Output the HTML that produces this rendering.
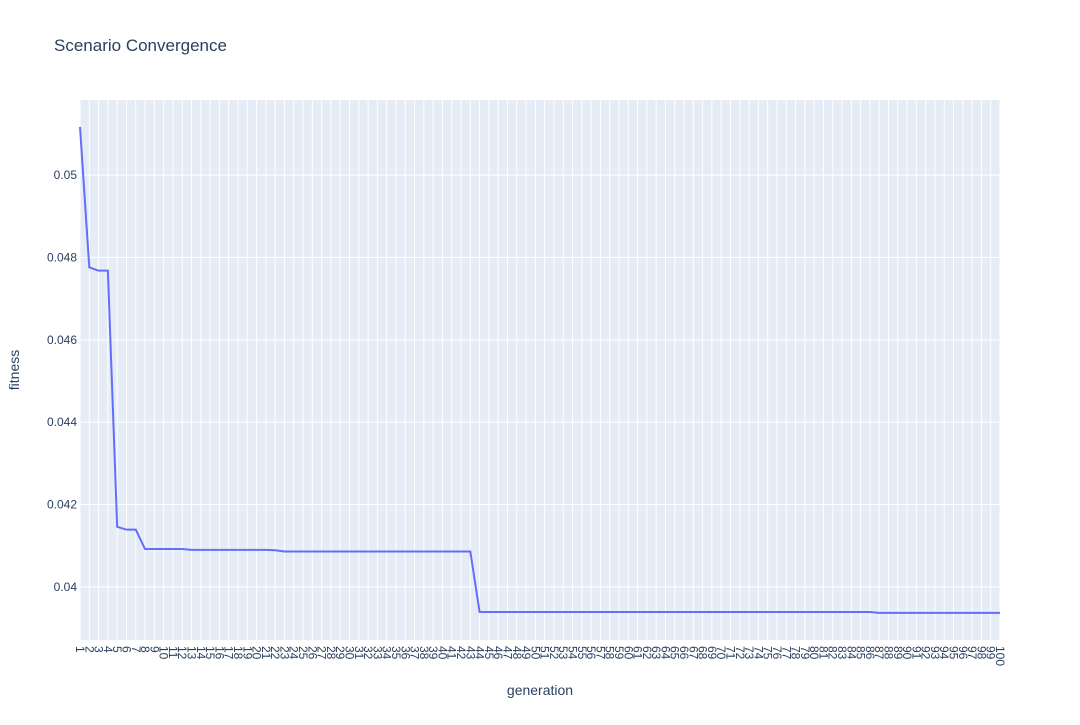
<!DOCTYPE html>
<html><head><meta charset="utf-8"><style>
body{margin:0;background:#fff;font-family:"Liberation Sans",Arial,sans-serif}
</style></head><body>
<svg id="chart" width="1080" height="720" xmlns="http://www.w3.org/2000/svg">
<text x="54" y="51" font-size="17" fill="#2a3f5f">Scenario Convergence</text>
<rect x="80" y="100" width="920" height="540" fill="#e5ecf6"/>
<g id="grid"></g><g id="xt"></g><g id="yt"></g>
<path id="line" fill="none" stroke="#636efa" stroke-width="2"/>
<text x="540" y="695" font-size="14" fill="#2a3f5f" text-anchor="middle">generation</text>
<text transform="translate(19,370) rotate(-90)" font-size="14" fill="#2a3f5f" text-anchor="middle">fitness</text>
</svg>
<script>
const fitnessA = [0.05117,0.04776,0.04768,0.04768,0.04146,0.04139,0.04139,0.04092,0.04092,0.04092,0.04092,0.04092];
const fitnessB = [0.0409,0.0409,0.0409,0.0409,0.0409,0.0409,0.0409,0.0409,0.0409,0.04089];
const fitnessC = Array(21).fill(0.04086);
const fitnessD = Array(43).fill(0.03939);
const fitnessE = Array(14).fill(0.03937);
const fitness = fitnessA.concat(fitnessB, fitnessC, fitnessD, fitnessE);
const generations = fitness.map((_, i) => String(i + 1));
const yTicks = [0.04, 0.042, 0.044, 0.046, 0.048, 0.05];
const yTickLabels = ["0.04","0.042","0.044","0.046","0.048","0.05"];
const ns="http://www.w3.org/2000/svg";
const X0=80,X1=1000,Y0=640,Y1=100,yMin=0.038711,yMax=0.051824;
const xs=i=>X0+i*(X1-X0)/(generations.length-1);
const ys=v=>Y0-(v-yMin)/(yMax-yMin)*(Y0-Y1);
function mk(t,a,p){const e=document.createElementNS(ns,t);for(const k in a)e.setAttribute(k,a[k]);p.appendChild(e);return e;}
const grid=document.getElementById('grid'),xt=document.getElementById('xt'),yt=document.getElementById('yt');
generations.forEach((g,i)=>{
 const l=mk('line',{x1:xs(i),x2:xs(i),y1:Y1,y2:Y0,stroke:'#fff','stroke-width':1},grid);
 
 
 const t=mk('text',{transform:`translate(${xs(i)-4},${Y0+6}) rotate(90)`,'font-size':12,fill:'#2a3f5f'},xt);
 t.textContent=g;
 
 
});
yTicks.forEach((v,i)=>{
 const l=mk('line',{x1:X0,x2:X1,y1:ys(v),y2:ys(v),stroke:'#fff','stroke-width':1},grid);
 
 
 const t=mk('text',{x:X0-3,y:ys(v)+4,'font-size':12,fill:'#2a3f5f','text-anchor':'end'},yt);
 t.textContent=yTickLabels[i];
 
 
});
document.getElementById('line').setAttribute('d',fitness.map((v,i)=>(i?'L':'M')+xs(i).toFixed(2)+','+ys(v).toFixed(2)).join(''));
</script>
</body></html>
